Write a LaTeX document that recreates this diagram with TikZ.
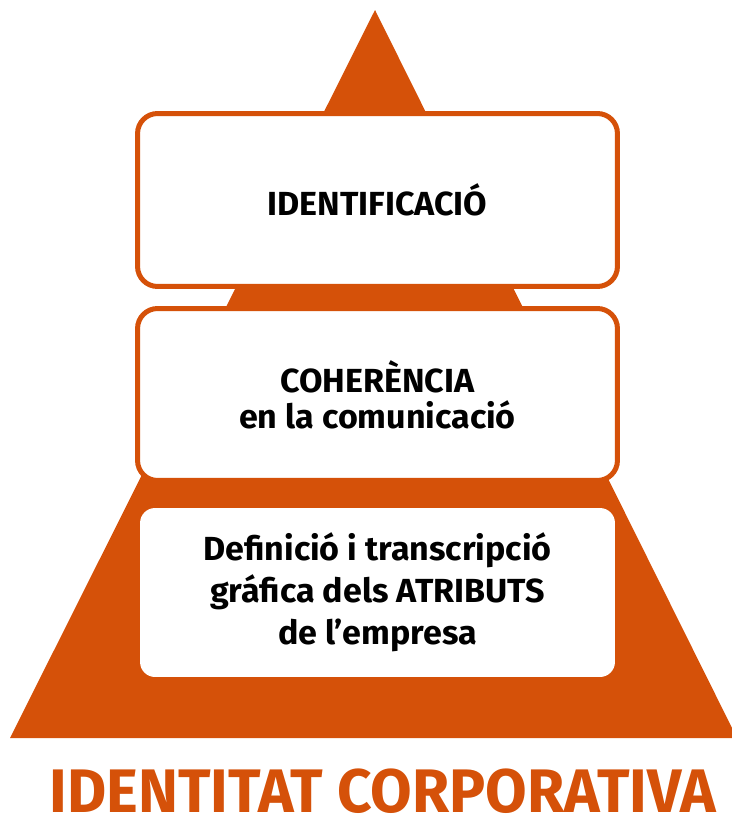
\documentclass[tikz,border=0pt]{standalone}
\usepackage{fontspec}
\setmainfont{Fira Sans}
\newfontfamily\boxfont[FakeStretch=1.02]{Fira Sans}
\newfontfamily\titlefont[FakeStretch=0.98]{Fira Sans}
\usepackage{tikz}
\usetikzlibrary{positioning}
\definecolor{corporange}{RGB}{213,81,9}

\tikzset{
  levelbox/.style={draw=corporange,line width=0.1cm,fill=white,rounded corners=0.4cm,
    minimum width=9.6cm,align=center,inner sep=0pt},
  basebox/.style={fill=white,rounded corners=0.3cm,minimum width=9.5cm,
    minimum height=3.38cm,align=center,inner sep=0pt},
}

\begin{document}
\begin{tikzpicture}[x=0.02cm,y=-0.02cm]
    \useasboundingbox (0,0) rectangle (731,818);
    \fill[corporange] (375,10) -- (737,738) -- (10,738) -- cycle;

    \node[levelbox,minimum height=3.46cm,font={\boxfont\bfseries\fontsize{19}{21}\selectfont}]
      (idbox) at (377.5,200) {IDENTIFICACIÓ};
    \node[levelbox,minimum height=3.44cm,font={\boxfont\bfseries\fontsize{19}{20.5}\selectfont}]
      (cohbox) at (377.5,394.5) {COHERÈNCIA\\en la comunicació};
    \node[basebox,font={\boxfont\bfseries\fontsize{19}{24}\selectfont}]
      (atrbox) at (377.5,592.5) {Definició i transcripció\\gráfica dels ATRIBUTS\\de l’empresa};

    \node[anchor=base,inner sep=0pt,text=corporange,font={\titlefont\bfseries\fontsize{35}{40}\selectfont}]
      (title) at (383,812) {IDENTITAT CORPORATIVA};
  \end{tikzpicture}
\end{document}
